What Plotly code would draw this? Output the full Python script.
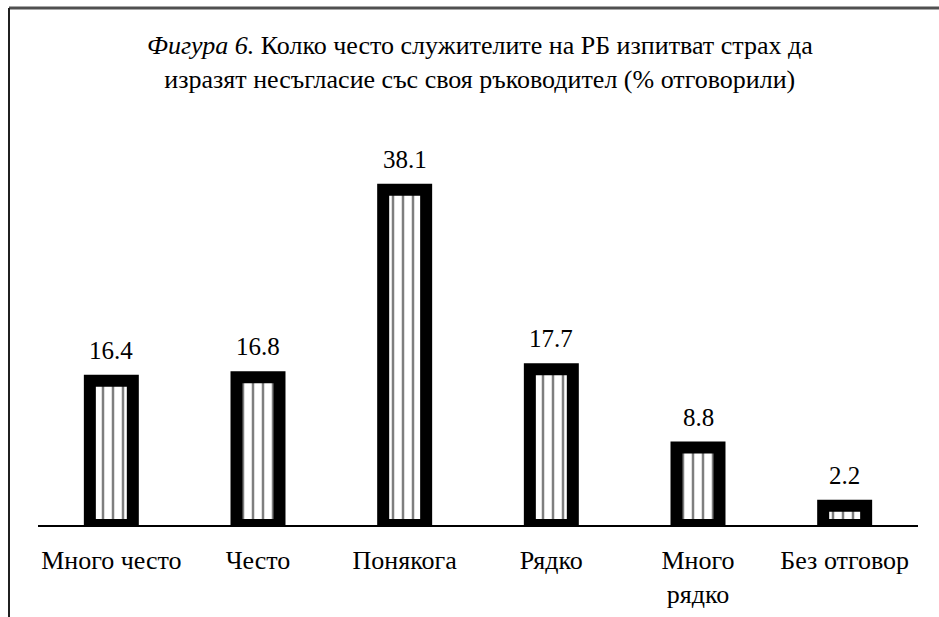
import plotly.graph_objects as go

categories = ["Много често", "Често", "Понякога", "Рядко", "Много<br>рядко", "Без отговор"]
values = [16.4, 16.8, 38.1, 17.7, 8.8, 2.2]
value_labels = ["16.4", "16.8", "38.1", "17.7", "8.8", "2.2"]

FONT = "Times New Roman"

fig = go.Figure()
fig.add_trace(go.Bar(
    x=categories, y=values,
    marker=dict(color="white", line=dict(color="black", width=12),
                pattern=dict(shape="|", fgcolor="black", bgcolor="white", size=10, solidity=0.25)),
    showlegend=False, hoverinfo="skip",
))

for c, v, t in zip(categories, values, value_labels):
    fig.add_annotation(x=c, y=v, text=t, showarrow=False, yanchor="bottom", yshift=15,
                       font=dict(family=FONT, size=25, color="black"))

W, H = 939, 617
ml, mr, mt, mb = 38, 21, 122, 92
pw, ph = W - ml - mr, H - mt - mb

def px(x):
    return (x - ml) / pw

def py(y):
    return (H - mb - y) / ph

fig.add_shape(type="line", xref="paper", yref="paper", x0=px(9), x1=px(939), y0=py(8), y1=py(8),
              line=dict(color="#505050", width=3))
fig.add_shape(type="line", xref="paper", yref="paper", x0=px(9), x1=px(9), y0=py(8), y1=py(617),
              line=dict(color="#202020", width=2))

fig.update_layout(
    width=W, height=H,
    margin=dict(l=ml, r=mr, t=mt, b=mb, autoexpand=False),
    paper_bgcolor="white", plot_bgcolor="white",
    bargap=0.707,
    title=dict(
        text="<i>Фигура 6.</i> Колко често служителите на РБ изпитват страх да<br>изразят несъгласие със своя ръководител (% отговорили)",
        x=0.511, xanchor="center", y=1 - 54 / H, yanchor="middle",
        font=dict(family=FONT, size=26, color="black"),
    ),
    xaxis=dict(showline=True, linecolor="black", linewidth=2, showgrid=False, zeroline=False,
               ticks="", ticklabelstandoff=11, automargin=False,
               tickfont=dict(family=FONT, size=26, color="black"), fixedrange=True),
    yaxis=dict(range=[0, 45.8], visible=False, showgrid=False, zeroline=False, fixedrange=True,
               automargin=False),
)

fig.write_html("out.html", config={"displayModeBar": False},
               post_script="document.body.style.margin='0';")
